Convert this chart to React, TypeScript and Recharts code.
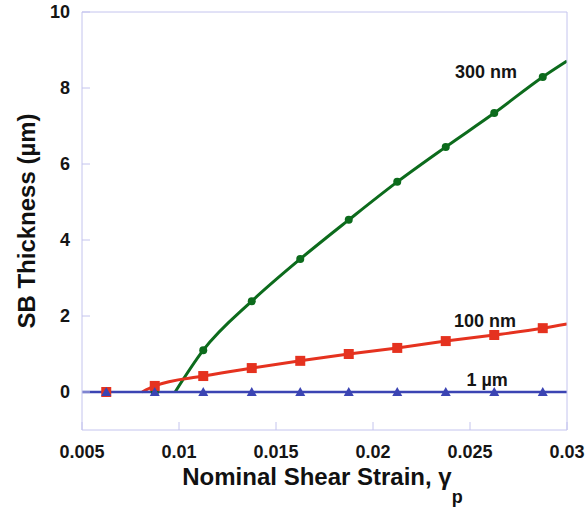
import React from "react"
import {
  ComposedChart,
  Line,
  Scatter,
  XAxis,
  YAxis,
  ReferenceDot,
} from "recharts"

// marker positions (nominal shear strain)
const strain = [0.00625, 0.00875, 0.01125, 0.01375, 0.01625, 0.01875, 0.02125, 0.02375, 0.02625, 0.02875]

// SB thickness (um) at each marker
const t300 = [0, 0, 1.1, 2.39, 3.5, 4.53, 5.53, 6.45, 7.34, 8.29]
const t100 = [0, 0.16, 0.42, 0.63, 0.82, 1.0, 1.16, 1.34, 1.5, 1.68]
const t1um = [0, 0, 0, 0, 0, 0, 0, 0, 0, 0]

// where each curve leaves zero, and value at the right edge
const onset300 = 0.0098
const onset100 = 0.0081
const end300 = 8.71
const end100 = 1.79
const end1um = 0

const xTicks = [0.005, 0.01, 0.015, 0.02, 0.025, 0.03]
const yTicks = [0, 2, 4, 6, 8, 10]

const labels = [
  { text: "300 nm", x: 0.02582, y: 8.42 },
  { text: "100 nm", x: 0.02577, y: 1.87 },
  { text: "1 \u00b5m", x: 0.02588, y: 0.32 },
]

const markers = (vals: number[]) => strain.map((x, i) => ({ x, y: vals[i] }))

const curve = (vals: number[], onset: number, end: number) => [
  { x: onset, y: 0 },
  ...markers(vals).filter((p) => p.x > onset),
  { x: 0.03, y: end },
]

const GREEN = "#0c6b1c"
const RED = "#e5321f"
const BLUE = "#3b44b3"
const FRAME = "#c4c4ee"
const FONT = "'Liberation Sans', Arial, sans-serif"

const tickStyle = { fontSize: 18, fontWeight: 700, fill: "#151515", fontFamily: FONT }

const Circle = (p: any) => <circle cx={p.cx} cy={p.cy} r={4} fill={GREEN} />
const Square = (p: any) => <rect x={p.cx - 5} y={p.cy - 5} width={10} height={10} fill={RED} />
const Tri = (p: any) => (
  <polygon points={`${p.cx},${p.cy - 5} ${p.cx - 5},${p.cy + 4} ${p.cx + 5},${p.cy + 4}`} fill={BLUE} />
)

const XTitle = ({ viewBox }: any) => {
  const cx = viewBox.x + viewBox.width / 2 - 2
  return (
    <text x={cx} y={viewBox.y + 55} textAnchor="middle" fontFamily={FONT} fontWeight={700} fontSize={24} fill="#111">
      Nominal Shear Strain, γ
      <tspan fontSize={18} dy={18}>p</tspan>
    </text>
  )
}

const YTitle = ({ viewBox }: any) => {
  const cy = viewBox.y + viewBox.height / 2
  const cx = 35
  return (
    <text
      x={cx}
      y={cy}
      transform={`rotate(-90, ${cx}, ${cy})`}
      textAnchor="middle"
      fontFamily={FONT}
      fontWeight={700}
      fontSize={24}
      fill="#111"
    >
      SB Thickness (µm)
    </text>
  )
}

export default function App() {
  return (
    <div style={{ position: "absolute", left: 0, top: 0, background: "#fff" }}>
      <ComposedChart width={586} height={513} margin={{ top: 11, right: 18, bottom: 33, left: 22 }}>
        <XAxis
          dataKey="x"
          type="number"
          domain={[0.005, 0.03]}
          ticks={xTicks}
          interval={0}
          allowDataOverflow
          stroke={FRAME}
          tickSize={-8}
          tickMargin={23}
          tick={tickStyle}
          height={50}
          label={<XTitle />}
        />
        <XAxis
          xAxisId="top"
          orientation="top"
          type="number"
          domain={[0.005, 0.03]}
          ticks={xTicks}
          interval={0}
          stroke={FRAME}
          tickSize={-8}
          tick={false}
          height={1}
        />
        <YAxis
          type="number"
          domain={[-1, 10]}
          ticks={yTicks}
          interval={0}
          allowDataOverflow
          stroke={FRAME}
          tickSize={-8}
          tickMargin={20}
          tick={tickStyle}
          width={60}
          label={<YTitle />}
        />
        <YAxis
          yAxisId="right"
          orientation="right"
          type="number"
          domain={[-1, 10]}
          ticks={yTicks}
          interval={0}
          stroke={FRAME}
          tickSize={-8}
          tick={false}
          width={1}
        />

        <Line data={curve(t300, onset300, end300)} dataKey="y" type="monotone" stroke={GREEN} strokeWidth={3} dot={false} isAnimationActive={false} />
        <Scatter data={markers(t300)} dataKey="y" shape={Circle} isAnimationActive={false} />

        <Line data={curve(t100, onset100, end100)} dataKey="y" type="monotone" stroke={RED} strokeWidth={3} dot={false} isAnimationActive={false} />
        <Scatter data={markers(t100)} dataKey="y" shape={Square} isAnimationActive={false} />

        <Line data={[{ x: 0.005, y: 0 }, ...markers(t1um), { x: 0.03, y: end1um }]} dataKey="y" type="linear" stroke={BLUE} strokeWidth={2.5} dot={false} isAnimationActive={false} />
        <Scatter data={markers(t1um)} dataKey="y" shape={Tri} isAnimationActive={false} />

        {labels.map((l) => (
          <ReferenceDot
            key={l.text}
            x={l.x}
            y={l.y}
            r={0}
            fill="none"
            stroke="none"
            label={{ value: l.text, position: "center", ...tickStyle }}
          />
        ))}
      </ComposedChart>
    </div>
  )
}
